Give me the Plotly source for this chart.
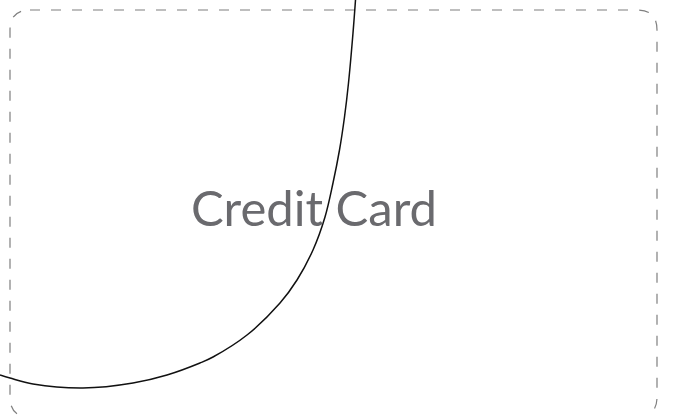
import plotly.graph_objects as go

# curve data (pixel-space coordinates of the drawn line)
curve_x = [0, 10, 33, 83, 133, 167, 200, 213, 247, 280, 297, 313, 325, 333, 339.5, 344.5, 348.5, 353, 355.5]
curve_y = [375, 378, 384, 388, 383, 375, 363, 357, 335, 303, 280, 250, 217, 183, 150, 117, 83, 33, 0]

label_text = "Credit Card"

W, H = 673, 415

fig = go.Figure()

fig.add_trace(go.Scatter(
    x=curve_x, y=curve_y, mode="lines",
    line=dict(color="#111111", width=1.5, shape="spline", smoothing=1.0),
    hoverinfo="skip", showlegend=False,
))

# dashed rounded rectangle
x0, y0, x1, y1, r = 10, 10, 657, 417, 20
path = (f"M {x0+r},{y0} L {x1-r},{y0} Q {x1},{y0} {x1},{y0+r} "
        f"L {x1},{y1-r} Q {x1},{y1} {x1-r},{y1} "
        f"L {x0+r},{y1} Q {x0},{y1} {x0},{y1-r} "
        f"L {x0},{y0+r} Q {x0},{y0} {x0+r},{y0} Z")
fig.add_shape(type="path", path=path, xref="x", yref="y",
              line=dict(color="#7f7f7f", width=1.2, dash="10px,11px"), layer="below")

fig.add_annotation(x=314, y=207, xref="x", yref="y", text=label_text, showarrow=False,
                   font=dict(family="Lato, Open Sans, sans-serif", size=49, color="#6a6a6e"))

fig.update_layout(
    width=W, height=H, margin=dict(l=0, r=0, t=0, b=0),
    paper_bgcolor="white", plot_bgcolor="white",
    xaxis=dict(range=[0, W], visible=False, fixedrange=True),
    yaxis=dict(range=[H, 0], visible=False, fixedrange=True),
)

fig.write_html("out.html", config={"displayModeBar": False},
               post_script="document.body.style.margin='0';document.body.style.overflow='hidden';")
